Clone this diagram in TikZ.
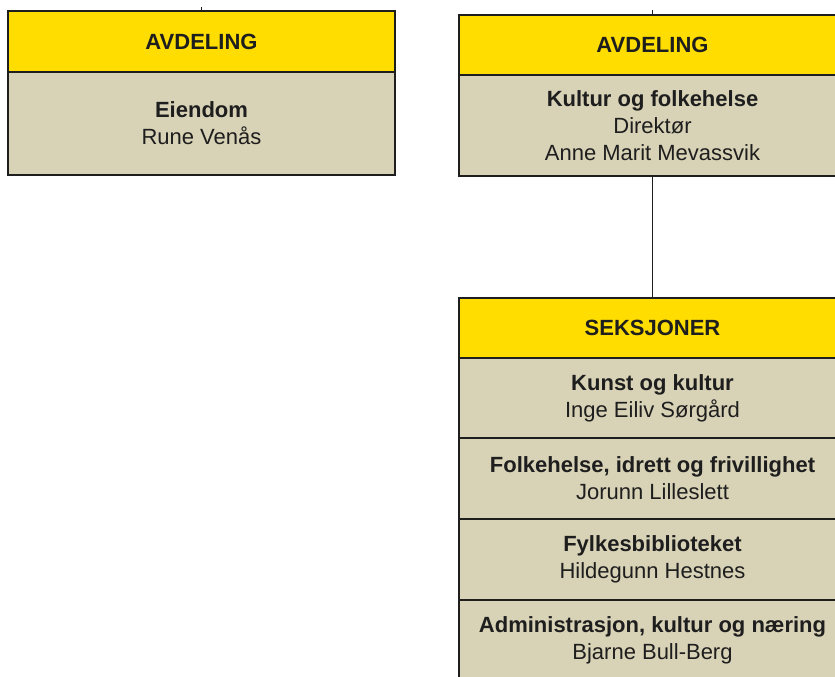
\documentclass[tikz,border=0pt]{standalone}
\usepackage{fontspec}
\setmainfont{Liberation Sans}
\usetikzlibrary{positioning}

\definecolor{headyellow}{RGB}{255,221,0}
\definecolor{cellbeige}{RGB}{216,210,182}
\definecolor{edgegray}{RGB}{30,30,30}

\begin{document}
\begin{tikzpicture}[x=1pt, y=-1pt,
	headbox/.style={draw=edgegray, line width=1.5pt, fill=headyellow, minimum width=387pt, minimum height=61pt, inner sep=0pt, outer sep=0pt, text=edgegray, font=\fontsize{22}{27}\selectfont\bfseries},
	cellbox/.style={draw=edgegray, line width=1.5pt, fill=cellbeige, minimum width=387pt, inner sep=0pt, outer sep=0pt, align=center, text=edgegray, font=\fontsize{22}{27}\selectfont},
	link/.style={draw=edgegray, line width=1.5pt}]
	\useasboundingbox (0, 0) rectangle (835, 677);

	% avdeling eiendom
	\node[headbox] (eiendomhead) at (201.5, 41.5) {AVDELING};
	\node[cellbox, minimum height=103pt, below=0pt of eiendomhead] (eiendom) {\textbf{Eiendom}\\Rune Venås};
	\coordinate (eiendomtop) at (201.5, 7);
	\draw[link] (eiendomtop) -- (eiendomhead);

	% avdeling kultur og folkehelse
	\node[headbox, minimum height=60pt] (kulturhead) at (652.5, 45) {AVDELING};
	\node[cellbox, minimum height=101pt, below=0pt of kulturhead] (kultur) {\textbf{Kultur og folkehelse}\\Direktør\\Anne Marit Mevassvik};
	\coordinate (kulturtop) at (652.5, 10);
	\draw[link] (kulturtop) -- (kulturhead);

	% seksjoner
	\node[headbox, minimum height=60pt] (seksjonhead) at (652.5, 328) {SEKSJONER};
	\node[cellbox, minimum height=80pt, below=0pt of seksjonhead] (kunst) {\textbf{Kunst og kultur}\\Inge Eiliv Sørgård};
	\node[cellbox, minimum height=81pt, below=0pt of kunst] (folkehelse) {\textbf{Folkehelse, idrett og frivillighet}\\Jorunn Lilleslett};
	\node[cellbox, minimum height=81pt, below=0pt of folkehelse] (bibliotek) {\textbf{Fylkesbiblioteket}\\Hildegunn Hestnes};
	\node[cellbox, minimum height=81pt, below=0pt of bibliotek] (administrasjon) {\textbf{Administrasjon, kultur og næring}\\Bjarne Bull-Berg};

	\draw[link] (kultur) -- (seksjonhead);
\end{tikzpicture}
\end{document}
